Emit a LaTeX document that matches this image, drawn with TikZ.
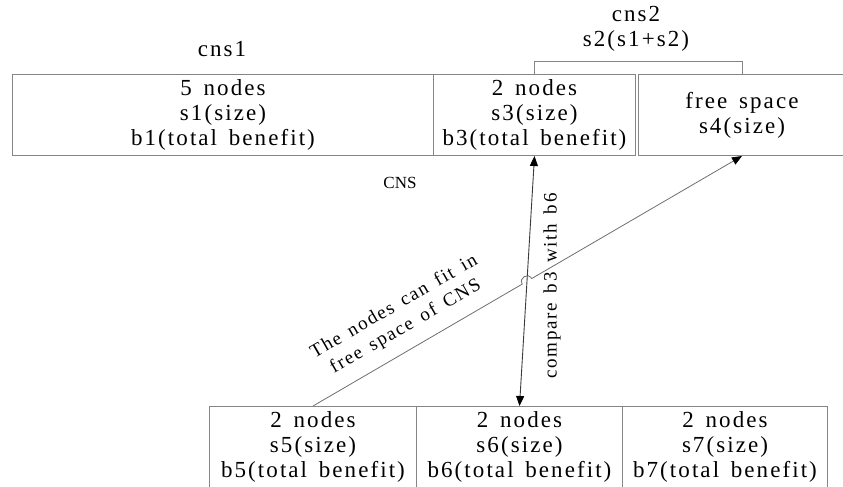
\documentclass[tikz,border=0pt]{standalone}
\usepackage{fontspec}
\setmainfont[LetterSpace=9,WordSpace=1.5]{Liberation Serif}
\newfontfamily\tightserif{Liberation Serif}
\usetikzlibrary{arrows.meta,calc}

\definecolor{boxgray}{HTML}{858585}
\definecolor{linegray}{HTML}{6E6E6E}
\definecolor{arrowdark}{HTML}{3A3A3A}

\begin{document}
\begin{tikzpicture}[x=1pt,y=-1pt,
  box/.style={draw=boxgray, line width=1pt, minimum height=81pt, inner sep=0pt,
    align=center, anchor=north west, font=\fontsize{23}{25}\selectfont},
  lbl/.style={inner sep=0pt, align=center, font=\fontsize{23}{25}\selectfont},
  smalllbl/.style={inner sep=0pt, align=center, font=\fontsize{19}{23}\selectfont},
  hd/.tip={Triangle[length=10pt,width=8pt]},
]
\useasboundingbox (0,0) rectangle (843,487);

% upper row of partitions
\node[box, minimum width=421pt] (s1) at (12,74) {5 nodes\\s1(size)\\b1(total benefit)};
\node[box, minimum width=202pt] (s3) at (433,74) {2 nodes\\s3(size)\\b3(total benefit)};
\node[box, minimum width=207pt] (s4) at (638,74) {free space\\s4(size)};

% lower row of partitions
\node[box, minimum width=207pt] (s5) at (209,406) {2 nodes\\s5(size)\\b5(total benefit)};
\node[box, minimum width=206pt] (s6) at (416,406) {2 nodes\\s6(size)\\b6(total benefit)};
\node[box, minimum width=205pt] (s7) at (622,406) {2 nodes\\s7(size)\\b7(total benefit)};

% labels
\node[lbl] (cns1) at (222,49) {cns1};
\node[lbl] (cns2) at (636,29) {cns2\\s2(s1+s2)};
\node[inner sep=0pt, font=\tightserif\fontsize{17}{19}\selectfont] (cnsl) at (400,183) {CNS};

% bracket grouping s3 and s4
\draw[boxgray, line width=1pt] (s3.north) -- ++(0,-12) -| (s4.north);

% comparison arrow
\draw[arrowdark, line width=0.9pt, {hd[black]}-{hd[black]}] (s3.south) -- (s6.north);

% fit arrow with a hop over the comparison arrow
\coordinate (X) at (intersection of s5.north--s4.south and s3.south--s6.north);
\coordinate (h1) at ($(X)!5.5pt!(s5.north)$);
\coordinate (h2) at ($(X)!5.5pt!(s4.south)$);
\draw[linegray, line width=0.8pt, -{hd[black]}] (s5.north) -- (h1)
  .. controls +(-3.7,-6.3) and +(-3.7,-6.3) .. (h2) -- (s4.south);

% arrow annotations
\node[smalllbl, rotate=30] (fitlbl) at (400,317) {The nodes can fit in\\free space of CNS};
\node[smalllbl, rotate=90] (cmplbl) at (552,286) {compare b3 with b6};
\end{tikzpicture}
\end{document}
